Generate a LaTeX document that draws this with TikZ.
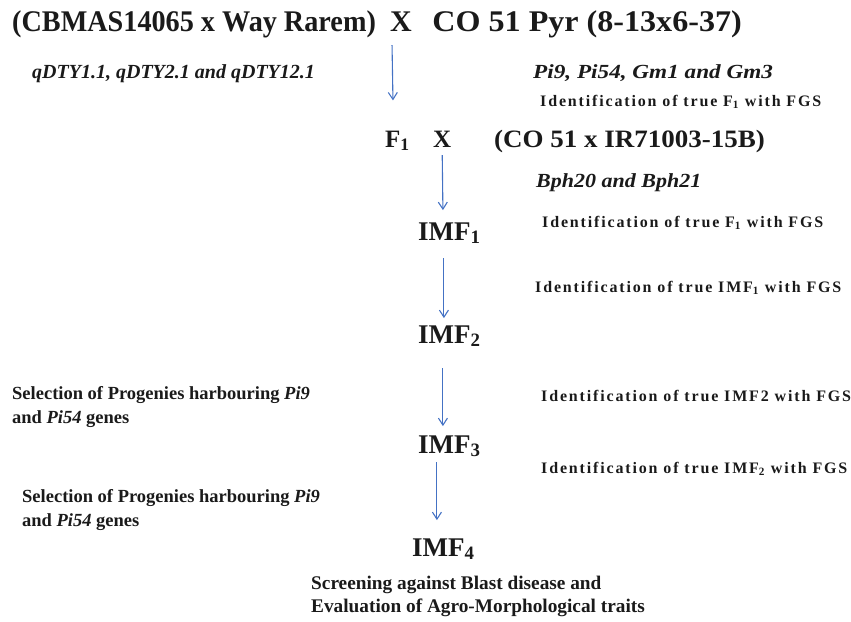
\documentclass[tikz,border=0pt]{standalone}
\usepackage{fontspec}
\usepackage{graphicx}
\setmainfont{Liberation Serif}
\usetikzlibrary{arrows.meta}

\definecolor{flowblue}{HTML}{4472C4}
\definecolor{ink}{HTML}{1A1A1A}

\newcommand{\wide}[2]{\scalebox{#1}[1]{#2}}

\tikzset{
  lbl/.style={anchor=base west, inner sep=0pt, text=ink, font=\bfseries},
  big/.style={lbl, font=\bfseries\fontsize{30}{34}\selectfont},
  mid/.style={lbl, font=\bfseries\fontsize{25}{28}\selectfont},
  gen/.style={lbl, font=\bfseries\itshape\fontsize{20}{24}\selectfont},
  ident/.style={lbl, font=\bfseries\fontsize{16}{19}\selectfont\addfontfeature{LetterSpace=11.5}},
  sel/.style={lbl, align=left, font=\bfseries\fontsize{18.5}{24}\selectfont},
  stage/.style={lbl, font=\bfseries\fontsize{27}{30}\selectfont},
  flow/.style={draw=flowblue, line width=1.1pt, -{Straight Barb[length=7pt,width=9pt]}}
}

\begin{document}
\begin{tikzpicture}[x=1pt,y=1pt]
	\useasboundingbox (0,0) rectangle (851,-621);
	% first cross
	\node[big] (p1) at (12,-31) {\wide{0.94}{(CBMAS14065 x Way Rarem)}};
	\node[big] (x1) at (390,-31) {X};
	\node[big, anchor=base east] (p2) at (742,-31) {\wide{1.07}{CO 51 Pyr (8-13x6-37)}};
	% second cross
	\node[mid] (f1) at (385,-147) {F\textsubscript{1}};
	\node[mid] (x2) at (433,-147) {X};
	\node[mid, anchor=base east] (p3) at (765,-147) {\wide{1.08}{(CO 51 x IR71003-15B)}};
	% genes
	\node[gen] (dty) at (32,-78) {qDTY1.1, qDTY2.1 and qDTY12.1};
	\node[gen] (pi) at (533,-78) {\wide{1.16}{Pi9, Pi54, Gm1 and Gm3}};
	\node[gen] (bph) at (536,-187) {\wide{1.1}{Bph20 and Bph21}};
	% stages
	\node[stage] (imf1) at (418,-240) {IMF\textsubscript{1}};
	\node[stage] (imf2) at (418,-343) {IMF\textsubscript{2}};
	\node[stage] (imf3) at (418,-453) {IMF\textsubscript{3}};
	\node[stage] (imf4) at (412,-556) {IMF\textsubscript{4}};
	% identification with FGS
	\node[ident] (id1) at (540,-106) {Identification of true F\textsubscript{1} with FGS};
	\node[ident] (id2) at (542,-227) {Identification of true F\textsubscript{1} with FGS};
	\node[ident] (id3) at (535,-292) {Identification of true IMF\textsubscript{1} with FGS};
	\node[ident] (id4) at (541,-401) {Identification of true IMF2 with FGS};
	\node[ident] (id5) at (541,-473) {Identification of true IMF\textsubscript{2} with FGS};
	% selection and screening
	\node[sel] (sel1) at (12,-423) {Selection of Progenies harbouring \textit{Pi9}\\and \textit{Pi54} genes};
	\node[sel] (sel2) at (22,-526) {Selection of Progenies harbouring \textit{Pi9}\\and \textit{Pi54} genes};
	\node[sel, font=\bfseries\fontsize{19.3}{23}\selectfont] (screen) at (311,-612) {Screening against Blast disease and\\Evaluation of Agro-Morphological traits};
	% arrows
	\draw[flow] ([xshift=-9pt,yshift=-14pt]x1.south) -- ([xshift=-4.5pt,yshift=30pt]f1.north);
	\draw[flow] ([yshift=-8pt]x2.south) -- ([xshift=-6.5pt,yshift=12pt]imf1.north);
	\draw[flow] ([xshift=-5.5pt,yshift=-14pt]imf1.south) -- ([xshift=-5.5pt,yshift=7pt]imf2.north);
	\draw[flow] ([xshift=-6.5pt,yshift=-21pt]imf2.south) -- ([xshift=-6.5pt,yshift=9pt]imf3.north);
	\draw[flow] ([xshift=-12.5pt,yshift=-5pt]imf3.south) -- ([xshift=-6.5pt,yshift=18pt]imf4.north);
\end{tikzpicture}
\end{document}
